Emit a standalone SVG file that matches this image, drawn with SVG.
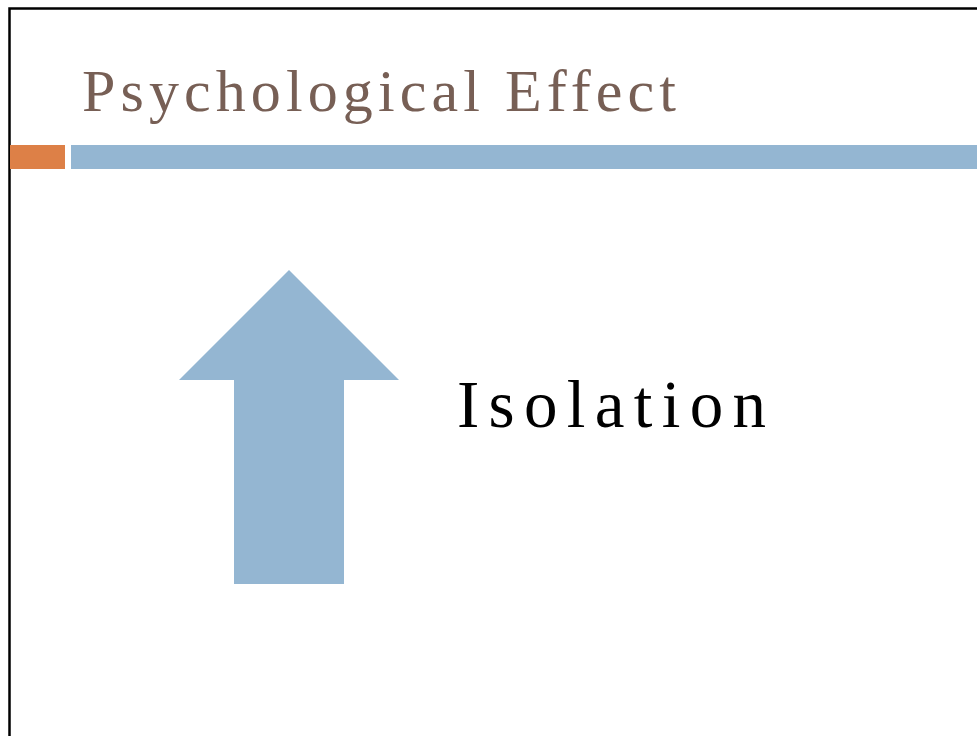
<svg xmlns="http://www.w3.org/2000/svg" width="977" height="736" viewBox="0 0 977 736">
<style>
.title{font-family:"Liberation Serif","DejaVu Serif",serif;font-size:60px;fill:#775F55}
.label{font-family:"Liberation Serif","DejaVu Serif",serif;font-size:67px;fill:#000000}
.blue{fill:#94B6D2}
</style>
<rect width="977" height="736" fill="#FFFFFF"/>
<path d="M9.5 736 V8.5 H977" fill="none" stroke="#000000" stroke-width="2.5"/>
<g id="title">
<text class="title" x="82" y="111" textLength="594" lengthAdjust="spacing">Psychological Effect</text>
</g>
<g id="header-bars">
<rect x="10" y="145" width="55" height="24" fill="#DD8047"/>
<rect class="blue" x="71" y="145" width="906" height="24"/>
</g>
<g id="arrow">
<polygon class="blue" points="289,270 399,380 344,380 344,584 234,584 234,380 179,380"/>
</g>
<g id="isolation">
<text class="label" x="457" y="427" textLength="309" lengthAdjust="spacing">Isolation</text>
</g>
<g id="connectors"/>
</svg>
